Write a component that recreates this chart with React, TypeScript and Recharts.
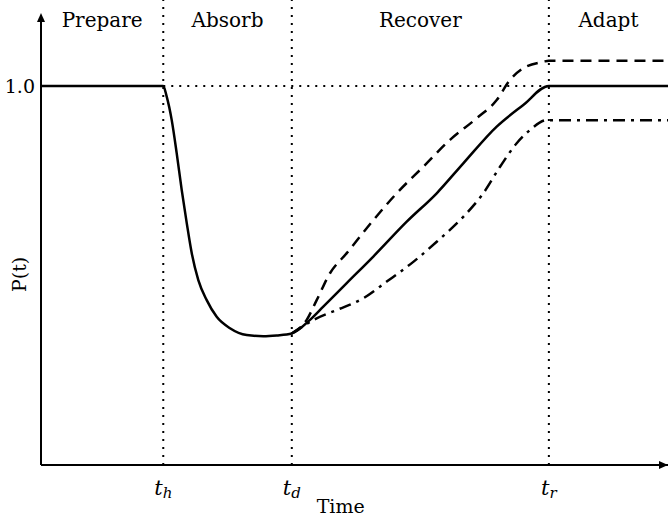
import { LineChart, Line, XAxis, YAxis, ReferenceLine, ReferenceDot } from "recharts";

// phase boundaries on the time axis
const tH = 19.5;
const tD = 40;
const tR = 81;
const tEnd = 100;

const phaseNames = ["Prepare", "Absorb", "Recover", "Adapt"];
const phaseEdges = [0, tH, tD, tR, tEnd];
const timeTicks = [tH, tD, tR];
const timeTickSubs = ["h", "d", "r"];
const perfTicks = [1];

// baseline performance curve (solid)
const baseline = [
  { t: 0, p: 1.0 },
  { t: 19.5, p: 1.0 },
  { t: 20.05, p: 0.972 },
  { t: 20.85, p: 0.91 },
  { t: 21.64, p: 0.823 },
  { t: 22.44, p: 0.726 },
  { t: 23.24, p: 0.639 },
  { t: 24.03, p: 0.56 },
  { t: 25.09, p: 0.488 },
  { t: 26.43, p: 0.435 },
  { t: 28.02, p: 0.391 },
  { t: 30.14, p: 0.361 },
  { t: 32.81, p: 0.343 },
  { t: 35.45, p: 0.34 },
  { t: 37.59, p: 0.342 },
  { t: 40, p: 0.347 },
  { t: 42.9, p: 0.383 },
  { t: 45.02, p: 0.418 },
  { t: 48.76, p: 0.48 },
  { t: 53.0, p: 0.55 },
  { t: 58.33, p: 0.642 },
  { t: 63.11, p: 0.717 },
  { t: 67.35, p: 0.796 },
  { t: 72.68, p: 0.893 },
  { t: 76.92, p: 0.95 },
  { t: 81, p: 1.0 },
  { t: 100, p: 1.0 },
];

// better recovery (dashed)
const upper = [
  { t: 40, p: 0.347 },
  { t: 42.38, p: 0.383 },
  { t: 43.97, p: 0.435 },
  { t: 46.09, p: 0.506 },
  { t: 48.76, p: 0.559 },
  { t: 53.0, p: 0.646 },
  { t: 56.73, p: 0.717 },
  { t: 60.97, p: 0.787 },
  { t: 65.23, p: 0.858 },
  { t: 69.49, p: 0.915 },
  { t: 72.68, p: 0.963 },
  { t: 74.8, p: 1.016 },
  { t: 76.92, p: 1.047 },
  { t: 80.1, p: 1.064 },
  { t: 81, p: 1.067 },
  { t: 100, p: 1.067 },
];

// worse recovery (dash-dot)
const lower = [
  { t: 40, p: 0.347 },
  { t: 43.97, p: 0.387 },
  { t: 47.16, p: 0.409 },
  { t: 51.4, p: 0.44 },
  { t: 55.14, p: 0.484 },
  { t: 59.38, p: 0.536 },
  { t: 63.11, p: 0.589 },
  { t: 67.35, p: 0.655 },
  { t: 70.54, p: 0.717 },
  { t: 73.21, p: 0.787 },
  { t: 75.87, p: 0.849 },
  { t: 77.99, p: 0.884 },
  { t: 80.65, p: 0.91 },
  { t: 81, p: 0.91 },
  { t: 100, p: 0.91 },
];

const yTop = 1.227;
const yArrow = 1.193;
const yPhaseLabel = 1.156;

const serif = "'DejaVu Serif', serif";

function TimeTick(props: any) {
  const { x, y, payload } = props;
  const i = timeTicks.indexOf(payload.value);
  return (
    <text x={x} y={y + 28} textAnchor="middle" fontFamily={serif} fontStyle="italic" fill="#000">
      <tspan fontSize={21}>t</tspan>
      <tspan fontSize={15} dy={3}>{timeTickSubs[i]}</tspan>
    </text>
  );
}

function PerfTick(props: any) {
  const { y, payload } = props;
  return (
    <text x={35} y={y} dy="0.35em" textAnchor="end" fontFamily={serif} fontSize={19} fill="#000">
      {payload.value.toFixed(1)}
    </text>
  );
}

const UpArrow = (p: any) => (
  <polygon points={`${p.cx},${p.cy} ${p.cx - 4},${p.cy + 9} ${p.cx + 4},${p.cy + 9}`} fill="#000" />
);
const RightArrow = (p: any) => (
  <polygon points={`${p.cx},${p.cy} ${p.cx - 9},${p.cy - 4} ${p.cx - 9},${p.cy + 4}`} fill="#000" />
);

export default function App() {
  const dotted = { stroke: "#000", strokeWidth: 2, strokeDasharray: "2 6" };
  return (
    <div style={{ position: "absolute", left: 0, top: 0, background: "#fff" }}>
      <LineChart width={669} height={523} margin={{ top: 0, right: 1, bottom: 0, left: 0 }}>
        <XAxis
          type="number"
          dataKey="t"
          domain={[0, tEnd]}
          ticks={timeTicks}
          interval={0}
          tick={<TimeTick />}
          tickLine={false}
          tickSize={0}
          axisLine={{ stroke: "#000", strokeWidth: 2 }}
          height={58}
          label={{
            content: (lp: any) => (
              <text
                x={lp.viewBox.x + lp.viewBox.width * 0.478}
                y={lp.viewBox.y + 48}
                textAnchor="middle"
                fontFamily={serif}
                fontSize={19}
                fill="#000"
              >
                Time
              </text>
            ),
          }}
        />
        <YAxis
          type="number"
          dataKey="p"
          domain={[0, yTop]}
          ticks={perfTicks}
          interval={0}
          width={41}
          axisLine={false}
          tickLine={false}
          tick={<PerfTick />}
          label={{
            content: (lp: any) => {
              const cx = 19;
              const cy = lp.viewBox.y + lp.viewBox.height * 0.59;
              return (
                <text
                  x={cx}
                  y={cy}
                  transform={`rotate(-90, ${cx}, ${cy})`}
                  textAnchor="middle"
                  dy="0.35em"
                  fontFamily={serif}
                  fontSize={19}
                  fill="#000"
                >
                  P(t)
                </text>
              );
            },
          }}
        />

        {timeTicks.map((t) => (
          <ReferenceLine key={t} x={t} {...dotted} />
        ))}
        <ReferenceLine segment={[{ x: tH, y: 1 }, { x: tEnd, y: 1 }]} {...dotted} />

        <ReferenceLine segment={[{ x: 0, y: 0 }, { x: 0, y: yArrow - 0.01 }]} stroke="#000" strokeWidth={2} />
        <ReferenceDot x={0} y={yArrow} r={0} shape={UpArrow} />
        <ReferenceDot x={tEnd} y={0} r={0} shape={RightArrow} />

        {phaseNames.map((name, i) => (
          <ReferenceDot
            key={name}
            x={(phaseEdges[i] + phaseEdges[i + 1]) / 2}
            y={yPhaseLabel}
            r={0}
            shape={(p: any) => (
              <text x={p.cx} y={p.cy} textAnchor="middle" fontFamily={serif} fontSize={20} fill="#000">
                {name}
              </text>
            )}
          />
        ))}

        <Line
          data={upper}
          dataKey="p"
          type="monotone"
          stroke="#000"
          strokeWidth={2.5}
          strokeDasharray="11 7"
          dot={false}
          isAnimationActive={false}
        />
        <Line
          data={lower}
          dataKey="p"
          type="monotone"
          stroke="#000"
          strokeWidth={2.5}
          strokeDasharray="12 6 3 6"
          dot={false}
          isAnimationActive={false}
        />
        <Line
          data={baseline}
          dataKey="p"
          type="monotone"
          stroke="#000"
          strokeWidth={2.5}
          dot={false}
          isAnimationActive={false}
        />
      </LineChart>
    </div>
  );
}
